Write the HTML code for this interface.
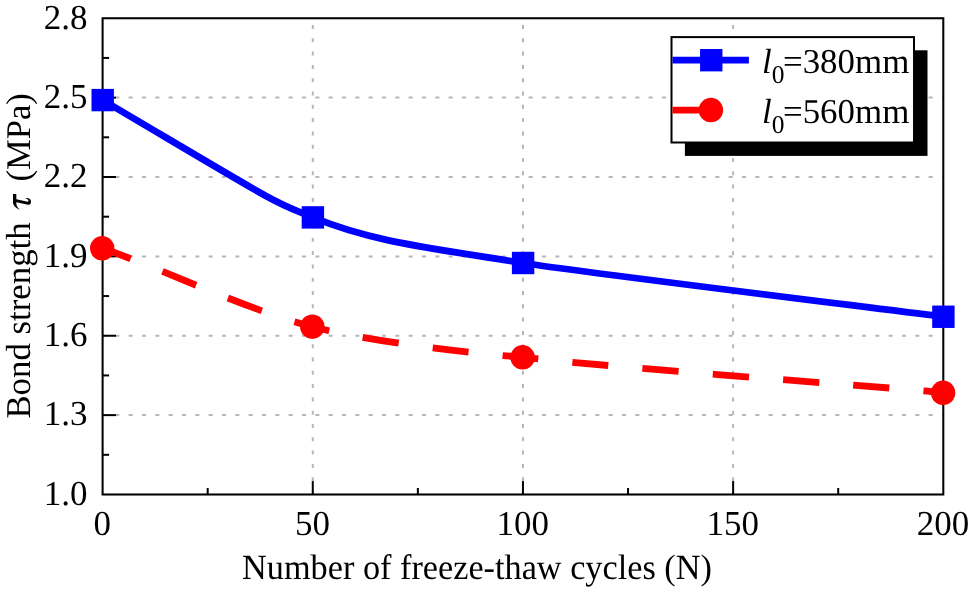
<!DOCTYPE html>
<html><head><meta charset="utf-8"><style>html,body{margin:0;padding:0;background:#fff;}svg{display:block;}</style></head>
<body><div style="will-change:transform;width:969px;height:589px;"><svg width="969" height="589" viewBox="0 0 969 589">
<rect width="969" height="589" fill="#fff"/>
<g stroke="#b6b6b6" stroke-width="2.0" stroke-dasharray="4 9.3333" fill="none"><line x1="102.0" y1="415.12" x2="943.30" y2="415.12"/><line x1="102.0" y1="335.75" x2="943.30" y2="335.75"/><line x1="102.0" y1="256.38" x2="943.30" y2="256.38"/><line x1="102.0" y1="177.00" x2="943.30" y2="177.00"/><line x1="102.0" y1="97.62" x2="943.30" y2="97.62"/><line x1="312.77" y1="494.50" x2="312.77" y2="18.25" stroke-dasharray="4 9.3"/><line x1="522.95" y1="494.50" x2="522.95" y2="18.25" stroke-dasharray="4 9.3"/><line x1="733.12" y1="494.50" x2="733.12" y2="18.25" stroke-dasharray="4 9.3"/></g>
<g stroke="#000" stroke-width="2.0"><line x1="102.60" y1="454.81" x2="109.10" y2="454.81"/><line x1="102.60" y1="415.12" x2="116.00" y2="415.12"/><line x1="102.60" y1="375.44" x2="109.10" y2="375.44"/><line x1="102.60" y1="335.75" x2="116.00" y2="335.75"/><line x1="102.60" y1="296.06" x2="109.10" y2="296.06"/><line x1="102.60" y1="256.38" x2="116.00" y2="256.38"/><line x1="102.60" y1="216.69" x2="109.10" y2="216.69"/><line x1="102.60" y1="177.00" x2="116.00" y2="177.00"/><line x1="102.60" y1="137.31" x2="109.10" y2="137.31"/><line x1="102.60" y1="97.62" x2="116.00" y2="97.62"/><line x1="102.60" y1="57.94" x2="109.10" y2="57.94"/><line x1="207.69" y1="494.50" x2="207.69" y2="488.00"/><line x1="312.77" y1="494.50" x2="312.77" y2="481.10"/><line x1="417.86" y1="494.50" x2="417.86" y2="488.00"/><line x1="522.95" y1="494.50" x2="522.95" y2="481.10"/><line x1="628.04" y1="494.50" x2="628.04" y2="488.00"/><line x1="733.12" y1="494.50" x2="733.12" y2="481.10"/><line x1="838.21" y1="494.50" x2="838.21" y2="488.00"/></g>
<rect x="102.6" y="18.25" width="840.70" height="476.25" fill="none" stroke="#000" stroke-width="2.05"/>
<path d="M102.70 100.10 C292.86 212.45 268.98 199.50 312.90 217.40 C373.99 242.29 426.70 247.38 523.10 263.00 C571.07 270.77 815.73 300.73 943.40 316.75" fill="none" stroke="#00f" stroke-width="6.8"/>
<path d="M102.20 248.30 C155.99 266.35 248.03 310.44 312.30 326.70 C394.44 347.48 516.69 356.63 522.60 357.30 C622.19 368.56 933.60 390.49 943.10 392.80" fill="none" stroke="#f00" stroke-width="6.8" stroke-dasharray="36.24 34.16" stroke-dashoffset="5.62"/>
<rect x="91.50" y="88.90" width="22.4" height="22.4" fill="#00f"/>
<rect x="301.70" y="206.20" width="22.4" height="22.4" fill="#00f"/>
<rect x="511.90" y="251.80" width="22.4" height="22.4" fill="#00f"/>
<rect x="932.20" y="305.55" width="22.4" height="22.4" fill="#00f"/>
<circle cx="102.20" cy="248.30" r="12.25" fill="#f00"/>
<circle cx="312.30" cy="326.70" r="12.25" fill="#f00"/>
<circle cx="522.60" cy="357.30" r="12.25" fill="#f00"/>
<circle cx="943.10" cy="392.80" r="12.25" fill="#f00"/>
<rect x="684.9" y="50.3" width="242.6" height="105.6" fill="#000"/>
<rect x="671.5" y="37.1" width="242.5" height="105.4" fill="#fff" stroke="#000" stroke-width="2"/>
<line x1="672.5" y1="60.05" x2="748.9" y2="60.05" stroke="#00f" stroke-width="6.8"/>
<rect x="700.05" y="49.00" width="22.4" height="22.4" fill="#00f"/>
<line x1="672.5" y1="110.2" x2="707.5" y2="110.2" stroke="#f00" stroke-width="6.8"/>
<circle cx="710.9" cy="110.1" r="12.25" fill="#f00"/>
<text x="762.0" y="72.9" font-family="Liberation Serif, serif" text-rendering="geometricPrecision" font-size="34.9" font-style="italic">l</text><text x="771.8" y="82.55" font-family="Liberation Serif, serif" text-rendering="geometricPrecision" font-size="25.5">0</text><text x="783.0" y="72.9" font-family="Liberation Serif, serif" text-rendering="geometricPrecision" font-size="34.9">=380mm</text>
<text x="762.0" y="122.9" font-family="Liberation Serif, serif" text-rendering="geometricPrecision" font-size="34.9" font-style="italic">l</text><text x="771.8" y="132.55" font-family="Liberation Serif, serif" text-rendering="geometricPrecision" font-size="25.5">0</text><text x="783.0" y="122.9" font-family="Liberation Serif, serif" text-rendering="geometricPrecision" font-size="34.9">=560mm</text>
<text x="87.5" y="504.75" font-family="Liberation Serif, serif" text-rendering="geometricPrecision" font-size="35" text-anchor="end">1.0</text>
<text x="87.5" y="425.38" font-family="Liberation Serif, serif" text-rendering="geometricPrecision" font-size="35" text-anchor="end">1.3</text>
<text x="87.5" y="346.00" font-family="Liberation Serif, serif" text-rendering="geometricPrecision" font-size="35" text-anchor="end">1.6</text>
<text x="87.5" y="266.62" font-family="Liberation Serif, serif" text-rendering="geometricPrecision" font-size="35" text-anchor="end">1.9</text>
<text x="87.5" y="187.25" font-family="Liberation Serif, serif" text-rendering="geometricPrecision" font-size="35" text-anchor="end">2.2</text>
<text x="87.5" y="107.88" font-family="Liberation Serif, serif" text-rendering="geometricPrecision" font-size="35" text-anchor="end">2.5</text>
<text x="87.5" y="28.50" font-family="Liberation Serif, serif" text-rendering="geometricPrecision" font-size="35" text-anchor="end">2.8</text>
<text x="102.30" y="534.9" font-family="Liberation Serif, serif" text-rendering="geometricPrecision" font-size="35" text-anchor="middle">0</text>
<text x="312.47" y="534.9" font-family="Liberation Serif, serif" text-rendering="geometricPrecision" font-size="35" text-anchor="middle">50</text>
<text x="522.65" y="534.9" font-family="Liberation Serif, serif" text-rendering="geometricPrecision" font-size="35" text-anchor="middle">100</text>
<text x="732.83" y="534.9" font-family="Liberation Serif, serif" text-rendering="geometricPrecision" font-size="35" text-anchor="middle">150</text>
<text x="943.00" y="534.9" font-family="Liberation Serif, serif" text-rendering="geometricPrecision" font-size="35" text-anchor="middle">200</text>
<text transform="translate(242.1,578.7) scale(1,1.035)" x="0" y="0" font-family="Liberation Serif, serif" text-rendering="geometricPrecision" font-size="34.25">Number of freeze-thaw cycles (N)</text>
<g transform="translate(30.4,418.6) rotate(-90)"><text x="0" y="0" font-family="Liberation Serif, serif" text-rendering="geometricPrecision" font-size="34.8">Bond strength</text><path d="M 224.70 -17.40 L 224.60 -14.10 L 219.30 -14.00 L 216.90 -2.80 C 217.30 -1.50 218.60 -1.50 219.40 -2.80 L 219.90 -4.90 C 221.20 -3.80 221.00 -0.40 217.80 0.50 C 215.40 1.00 213.60 -0.00 213.80 -2.20 L 216.30 -14.00 L 215.40 -14.10 C 213.20 -14.10 211.00 -13.00 209.40 -10.90 L 209.00 -11.30 C 210.40 -14.40 212.60 -17.10 215.80 -17.40 Z" fill="#000"/><text x="237.1" y="0" font-family="Liberation Serif, serif" text-rendering="geometricPrecision" font-size="34.6">(MPa)</text></g>
</svg></div></body></html>
